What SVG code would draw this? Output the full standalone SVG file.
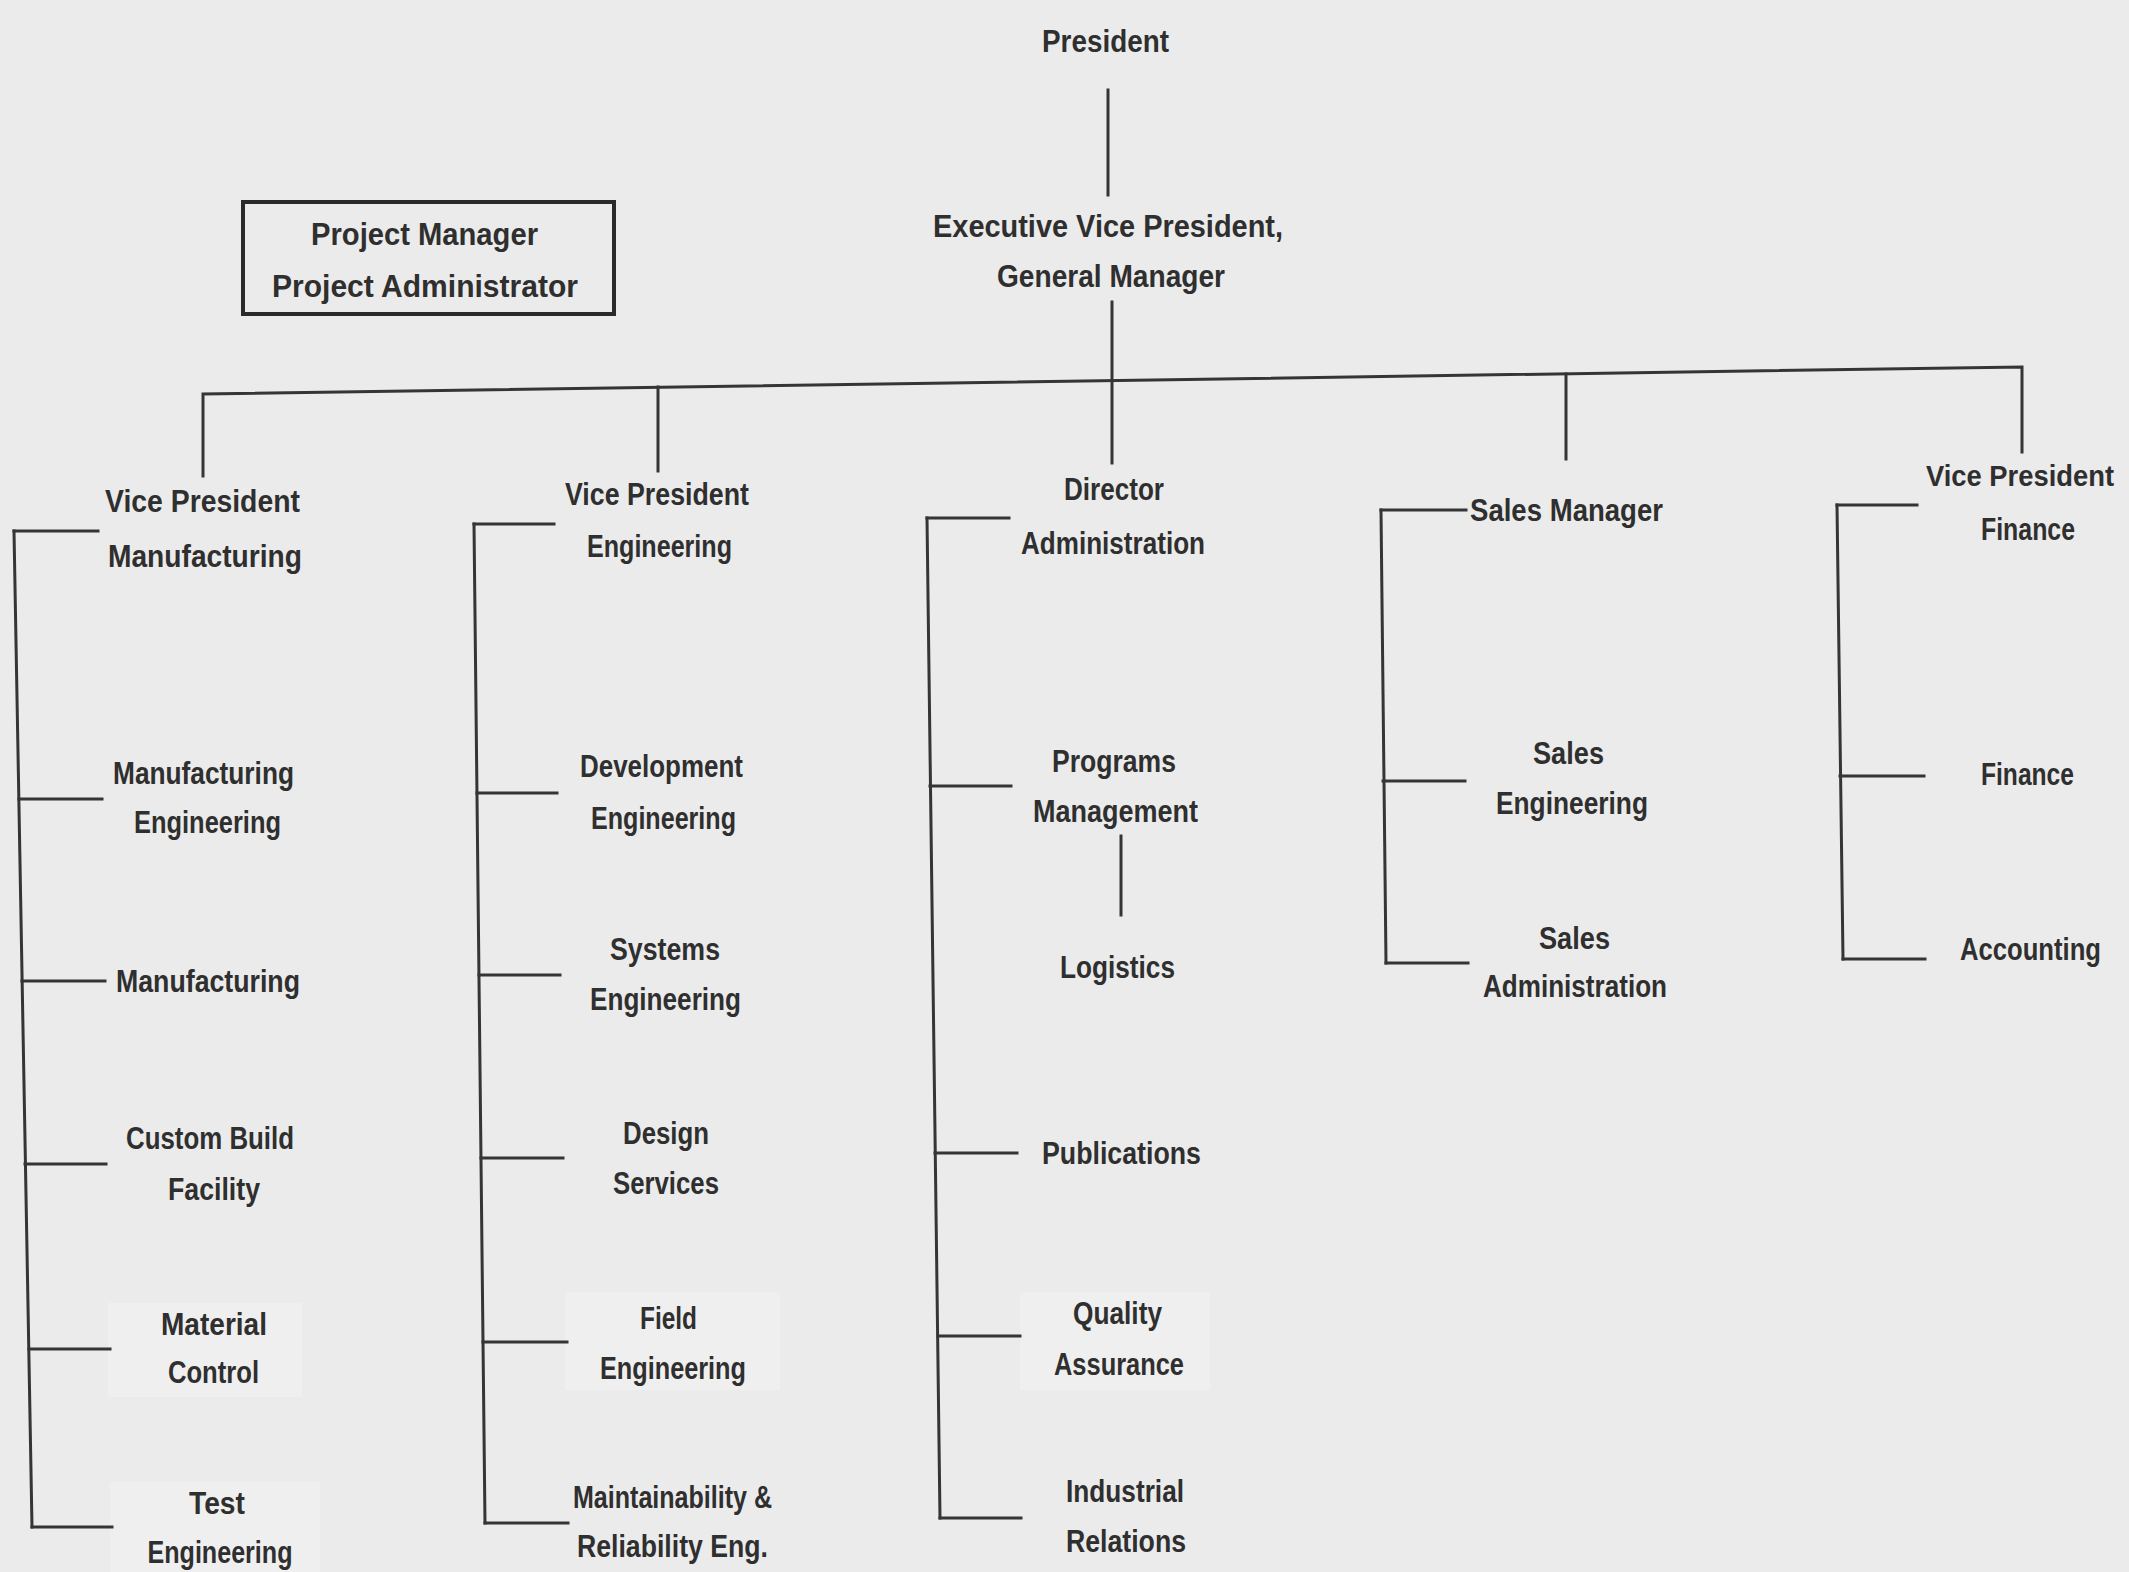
<svg xmlns="http://www.w3.org/2000/svg" width="2129" height="1572" viewBox="0 0 2129 1572">
<defs>
<style>
.bg{fill:#ebebeb}
.patch{fill:#efefef}
.t{font-family:"Liberation Sans",Arial,sans-serif;font-weight:bold;font-size:31px;fill:#2f2f2f;text-anchor:middle}
.c line,.c polyline{stroke:#353535;stroke-width:3;fill:none;stroke-linecap:square}
.box{fill:none;stroke:#2a2a2a;stroke-width:4}
</style>
</defs>
<rect class="bg" x="0" y="0" width="2129" height="1572"/>
<g id="scan-patches">
<rect class="patch" x="108" y="1303" width="194" height="94"/>
<rect class="patch" x="110" y="1482" width="210" height="90"/>
<rect class="patch" x="565" y="1292" width="215" height="98"/>
<rect class="patch" x="1020" y="1292" width="190" height="98"/>
</g>
<g id="connectors" class="c">
<line x1="1108" y1="90" x2="1108" y2="195"/>
<line x1="1112" y1="302" x2="1112" y2="463"/>
<polyline points="203,476 203,394 2022,367 2022,452"/>
<line x1="658" y1="387" x2="658" y2="471"/>
<line x1="1566" y1="374" x2="1566" y2="459"/>
<!-- Manufacturing -->
<line x1="14" y1="531" x2="32" y2="1527"/>
<line x1="14" y1="531" x2="98" y2="531"/>
<line x1="19" y1="799" x2="102" y2="799"/>
<line x1="22" y1="981" x2="105" y2="981"/>
<line x1="25" y1="1164" x2="106" y2="1164"/>
<line x1="29" y1="1349" x2="110" y2="1349"/>
<line x1="32" y1="1527" x2="112" y2="1527"/>
<!-- Engineering -->
<line x1="474" y1="524" x2="485" y2="1523"/>
<line x1="474" y1="524" x2="554" y2="524"/>
<line x1="477" y1="793" x2="557" y2="793"/>
<line x1="479" y1="975" x2="560" y2="975"/>
<line x1="481" y1="1158" x2="563" y2="1158"/>
<line x1="483" y1="1342" x2="567" y2="1342"/>
<line x1="485" y1="1523" x2="568" y2="1523"/>
<!-- Administration -->
<line x1="927" y1="518" x2="940" y2="1518"/>
<line x1="927" y1="518" x2="1009" y2="518"/>
<line x1="930" y1="786" x2="1011" y2="786"/>
<line x1="935" y1="1153" x2="1017" y2="1153"/>
<line x1="938" y1="1336" x2="1020" y2="1336"/>
<line x1="940" y1="1518" x2="1021" y2="1518"/>
<line x1="1121" y1="836" x2="1121" y2="915"/>
<!-- Sales -->
<line x1="1381" y1="510" x2="1386" y2="963"/>
<line x1="1381" y1="510" x2="1466" y2="510"/>
<line x1="1383" y1="781" x2="1465" y2="781"/>
<line x1="1386" y1="963" x2="1468" y2="963"/>
<!-- Finance -->
<line x1="1837" y1="505" x2="1843" y2="959"/>
<line x1="1837" y1="505" x2="1917" y2="505"/>
<line x1="1840" y1="776" x2="1924" y2="776"/>
<line x1="1843" y1="959" x2="1925" y2="959"/>
</g>
<g id="president"><text class="t" x="1105.5" y="52" textLength="127" lengthAdjust="spacingAndGlyphs">President</text></g>
<g id="evp">
<text class="t" x="1108" y="237" textLength="350" lengthAdjust="spacingAndGlyphs">Executive Vice President,</text>
<text class="t" x="1111" y="287" textLength="228" lengthAdjust="spacingAndGlyphs">General Manager</text>
</g>
<g id="project-manager">
<rect class="box" x="243" y="202" width="371" height="112"/>
<text class="t" x="424.5" y="245" textLength="227" lengthAdjust="spacingAndGlyphs">Project Manager</text>
<text class="t" x="425" y="297" textLength="306" lengthAdjust="spacingAndGlyphs">Project Administrator</text>
</g>
<g id="vp-manufacturing">
<text class="t" x="202.5" y="512" textLength="195" lengthAdjust="spacingAndGlyphs">Vice President</text>
<text class="t" x="205" y="567" textLength="194" lengthAdjust="spacingAndGlyphs">Manufacturing</text>
</g>
<g id="manufacturing-engineering">
<text class="t" x="203.5" y="784" textLength="181" lengthAdjust="spacingAndGlyphs">Manufacturing</text>
<text class="t" x="207.5" y="833" textLength="147" lengthAdjust="spacingAndGlyphs">Engineering</text>
</g>
<g id="manufacturing"><text class="t" x="208" y="992" textLength="184" lengthAdjust="spacingAndGlyphs">Manufacturing</text></g>
<g id="custom-build">
<text class="t" x="210" y="1149" textLength="168" lengthAdjust="spacingAndGlyphs">Custom Build</text>
<text class="t" x="214" y="1200" textLength="92" lengthAdjust="spacingAndGlyphs">Facility</text>
</g>
<g id="material-control">
<text class="t" x="214" y="1335" textLength="106" lengthAdjust="spacingAndGlyphs">Material</text>
<text class="t" x="213.5" y="1383" textLength="91" lengthAdjust="spacingAndGlyphs">Control</text>
</g>
<g id="test-engineering">
<text class="t" x="217" y="1514" textLength="56" lengthAdjust="spacingAndGlyphs">Test</text>
<text class="t" x="220" y="1563" textLength="145" lengthAdjust="spacingAndGlyphs">Engineering</text>
</g>
<g id="vp-engineering">
<text class="t" x="657" y="505" textLength="184" lengthAdjust="spacingAndGlyphs">Vice President</text>
<text class="t" x="659.5" y="557" textLength="145" lengthAdjust="spacingAndGlyphs">Engineering</text>
</g>
<g id="development-engineering">
<text class="t" x="661.5" y="777" textLength="163" lengthAdjust="spacingAndGlyphs">Development</text>
<text class="t" x="663.5" y="829" textLength="145" lengthAdjust="spacingAndGlyphs">Engineering</text>
</g>
<g id="systems-engineering">
<text class="t" x="665" y="960" textLength="110" lengthAdjust="spacingAndGlyphs">Systems</text>
<text class="t" x="665.5" y="1010" textLength="151" lengthAdjust="spacingAndGlyphs">Engineering</text>
</g>
<g id="design-services">
<text class="t" x="666" y="1144" textLength="86" lengthAdjust="spacingAndGlyphs">Design</text>
<text class="t" x="666" y="1194" textLength="106" lengthAdjust="spacingAndGlyphs">Services</text>
</g>
<g id="field-engineering">
<text class="t" x="668.5" y="1329" textLength="57" lengthAdjust="spacingAndGlyphs">Field</text>
<text class="t" x="673" y="1379" textLength="146" lengthAdjust="spacingAndGlyphs">Engineering</text>
</g>
<g id="maintainability">
<text class="t" x="672.5" y="1508" textLength="199" lengthAdjust="spacingAndGlyphs">Maintainability &amp;</text>
<text class="t" x="672.5" y="1557" textLength="191" lengthAdjust="spacingAndGlyphs">Reliability Eng.</text>
</g>
<g id="director-administration">
<text class="t" x="1114" y="500" textLength="100" lengthAdjust="spacingAndGlyphs">Director</text>
<text class="t" x="1113" y="554" textLength="184" lengthAdjust="spacingAndGlyphs">Administration</text>
</g>
<g id="programs-management">
<text class="t" x="1114" y="772" textLength="124" lengthAdjust="spacingAndGlyphs">Programs</text>
<text class="t" x="1115.5" y="822" textLength="165" lengthAdjust="spacingAndGlyphs">Management</text>
</g>
<g id="logistics"><text class="t" x="1117.5" y="978" textLength="115" lengthAdjust="spacingAndGlyphs">Logistics</text></g>
<g id="publications"><text class="t" x="1121.5" y="1164" textLength="159" lengthAdjust="spacingAndGlyphs">Publications</text></g>
<g id="quality-assurance">
<text class="t" x="1117.5" y="1324" textLength="89" lengthAdjust="spacingAndGlyphs">Quality</text>
<text class="t" x="1119" y="1375" textLength="130" lengthAdjust="spacingAndGlyphs">Assurance</text>
</g>
<g id="industrial-relations">
<text class="t" x="1125" y="1502" textLength="118" lengthAdjust="spacingAndGlyphs">Industrial</text>
<text class="t" x="1126" y="1552" textLength="120" lengthAdjust="spacingAndGlyphs">Relations</text>
</g>
<g id="sales-manager"><text class="t" x="1566.5" y="521" textLength="193" lengthAdjust="spacingAndGlyphs">Sales Manager</text></g>
<g id="sales-engineering">
<text class="t" x="1568.5" y="764" textLength="71" lengthAdjust="spacingAndGlyphs">Sales</text>
<text class="t" x="1572" y="814" textLength="152" lengthAdjust="spacingAndGlyphs">Engineering</text>
</g>
<g id="sales-administration">
<text class="t" x="1574.5" y="949" textLength="71" lengthAdjust="spacingAndGlyphs">Sales</text>
<text class="t" x="1575" y="997" textLength="184" lengthAdjust="spacingAndGlyphs">Administration</text>
</g>
<g id="vp-finance">
<text class="t" x="2020" y="486" style="font-size:29px" textLength="188" lengthAdjust="spacingAndGlyphs">Vice President</text>
<text class="t" x="2028" y="540" textLength="94" lengthAdjust="spacingAndGlyphs">Finance</text>
</g>
<g id="finance"><text class="t" x="2027.5" y="785" textLength="93" lengthAdjust="spacingAndGlyphs">Finance</text></g>
<g id="accounting"><text class="t" x="2030.5" y="960" textLength="141" lengthAdjust="spacingAndGlyphs">Accounting</text></g>
</svg>
